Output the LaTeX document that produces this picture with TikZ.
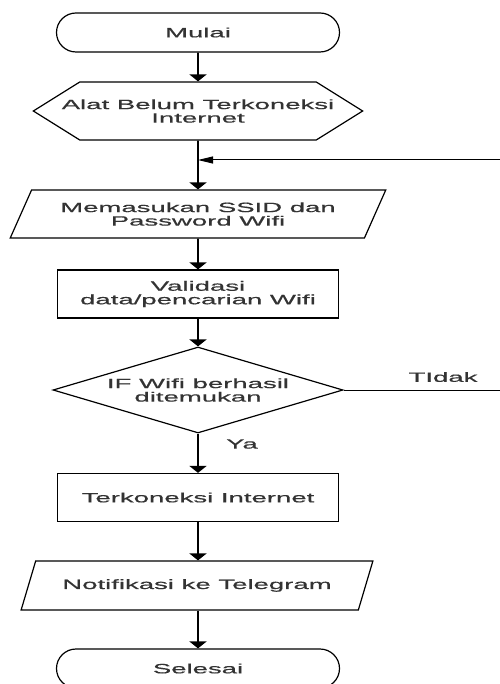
\documentclass[tikz,border=0pt]{standalone}
\usepackage{fontspec}
\setmainfont[FakeStretch=2.04, FakeBold=0.6]{Liberation Sans}
\usetikzlibrary{
  shapes.geometric,
  shapes.symbols,
  arrows.meta
}

\begin{document}
\begin{tikzpicture}[x=1pt, y=-1pt]
  \tikzset{
    every node/.style={font=\fontsize{13.5}{13.5}\selectfont, text=black!80, align=center},
    box/.style={draw=black, line width=1.2pt, inner sep=0pt},
    terminal/.style={box, rectangle, rounded corners=19.5pt, minimum width=283pt, minimum height=39pt},
    process/.style={box, rectangle, minimum width=281pt, minimum height=48pt},
    prep/.style={box, signal, signal to=west and east, signal pointer angle=64,
      inner xsep=-18pt, minimum height=58pt},
    io/.style={box, trapezium, trapezium left angle=53, trapezium right angle=127,
      trapezium stretches=true, minimum width=377pt, minimum height=48pt},
    decision/.style={box, diamond, shape aspect=3.37, minimum width=290pt, minimum height=86pt},
    down/.style={line width=1.8pt, -{Triangle[width=17pt, length=7pt]}},
    back/.style={line width=1pt, -{Triangle[width=7pt, length=15pt]}},
  }
  \useasboundingbox (0,0) rectangle (499,684);

  \node[terminal] (start) at (198,32.5) {Mulai};
  \node[prep] (conn) at (198,111) {Alat Belum Terkoneksi\\Internet};
  \node[io] (ssid) at (198,214) {Memasukan SSID dan\\Password Wifi};
  \node[process] (valid) at (198,294) {Validasi\\data/pencarian Wifi};
  \node[decision] (found) at (198,390) {IF Wifi berhasil\\ditemukan};
  \node[process] (online) at (198,497.5) {Terkoneksi Internet};
  \node[io, minimum width=352pt, minimum height=49pt,
    trapezium left angle=46, trapezium right angle=134] (notif) at (197,585.5) {Notifikasi ke Telegram};
  \node[terminal] (stop) at (198,668.5) {Selesai};

  % main line, top to bottom
  \draw[down] (start) -- (conn);
  \draw[down] (conn) -- (ssid);
  \draw[down] (ssid) -- (valid);
  \draw[down] (valid) -- (found);
  \draw[down] (found) -- (online);
  \draw[down] (online) -- (online |- notif.north);
  \draw[down] (notif.south -| online) -- (stop);

  % loop back when no wifi is found (goes off the right edge)
  \coordinate (join) at (198,160);
  \draw[back] (found.east) -- (506,390) |- (join);
  \node (no) at (443,377) {TIdak};
  \node (yes) at (242,444) {Ya};
\end{tikzpicture}
\end{document}
